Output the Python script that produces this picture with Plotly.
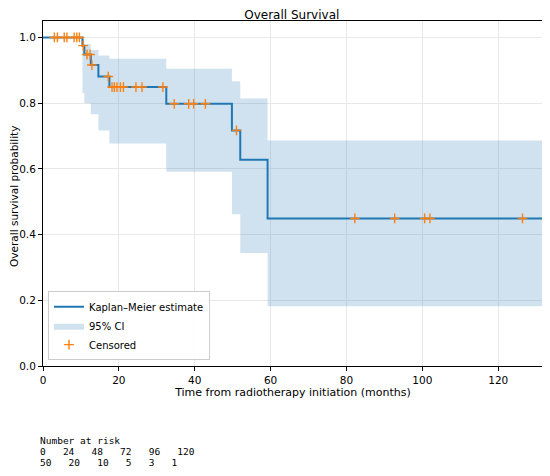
import numpy as np
import plotly.graph_objects as go

# Kaplan-Meier step values
event_times = [0, 10.4, 10.9, 12.6, 14.6, 17.5, 32.5, 49.8, 52.0, 59.2]
survival = [1.0, 0.975, 0.948, 0.916, 0.881, 0.849, 0.798, 0.717, 0.628, 0.449]
ci_upper = [1.0, 0.995, 0.98, 0.962, 0.945, 0.935, 0.905, 0.867, 0.814, 0.686]
ci_lower = [1.0, 0.83, 0.80, 0.766, 0.717, 0.677, 0.591, 0.462, 0.344, 0.182]
end_time = 131.8

censor_times = [3.0, 3.8, 5.6, 6.3, 8.2, 8.9, 9.6, 10.6, 11.6, 12.4, 12.9, 17.2,
                18.2, 18.8, 19.5, 20.4, 21.2, 24.5, 26.1, 31.6, 34.6, 38.4, 39.7,
                42.8, 51.0, 82.2, 92.7, 100.6, 102.0, 126.4]

risk_times = [0, 24, 48, 72, 96, 120]
risk_counts = [50, 20, 10, 5, 3, 1]

blue = "#1f77b4"
orange = "#ff7f0e"

# extend the step curves to the end of follow-up
t_step = event_times + [end_time]
s_step = survival + [survival[-1]]
up_step = ci_upper + [ci_upper[-1]]
lo_step = ci_lower + [ci_lower[-1]]

# censored marks sit on the curve
idx = np.searchsorted(event_times, censor_times, side="right") - 1
censor_surv = [survival[i] for i in idx]

fig = go.Figure()
fig.add_trace(go.Scatter(x=t_step, y=lo_step, mode="lines", line_shape="hv",
                         line=dict(width=0, color=blue), showlegend=False,
                         hoverinfo="skip"))
fig.add_trace(go.Scatter(x=t_step, y=up_step, mode="lines", line_shape="hv",
                         line=dict(width=0, color=blue), fill="tonexty",
                         fillcolor="rgba(31,119,180,0.21)", name="95% CI",
                         legendrank=2))
fig.add_trace(go.Scatter(x=t_step, y=s_step, mode="lines", line_shape="hv",
                         line=dict(width=2, color=blue),
                         name="Kaplan\u2013Meier estimate", legendrank=1))
fig.add_trace(go.Scatter(x=censor_times, y=censor_surv, mode="markers",
                         marker=dict(symbol="cross-thin", size=7,
                                     line=dict(width=1.4, color=orange)),
                         name="Censored", legendrank=3))

# number-at-risk table, one annotation per line for tight spacing
risk_lines = ["Number at risk",
              "   ".join(str(t) for t in risk_times),
              "   ".join(str(n) for n in risk_counts)]
for i, line in enumerate(risk_lines):
    fig.add_annotation(text=line, xref="paper", yref="paper",
                       x=-0.01, y=-0.217 - 0.032 * i,
                       xanchor="left", yanchor="middle",
                       align="left", showarrow=False,
                       font=dict(family="DejaVu Sans Mono", size=9.5,
                                 color="black"))

# y title as annotation so it can sit closer to the page edge
fig.add_annotation(text="Overall survival probability", xref="paper",
                   yref="paper", x=-0.058, y=0.49, textangle=-90,
                   xanchor="center", yanchor="middle", showarrow=False,
                   font=dict(size=10.5, color="black"))

axis_common = dict(showline=True, linecolor="black", linewidth=1, mirror=True,
                   ticks="outside", ticklen=4, tickcolor="black",
                   showgrid=True, gridcolor="#e8e8e8", zeroline=False,
                   automargin=False,
                   tickfont=dict(size=10.5, color="black"))

fig.update_xaxes(range=[0, end_time], dtick=20, tick0=0,
                 title=dict(text="Time from radiotherapy initiation (months)",
                            font=dict(size=11, color="black"), standoff=2),
                 **axis_common)
fig.update_yaxes(range=[0, 1.05], dtick=0.2, tick0=0, tickformat=".1f",
                 **axis_common)

# the page body adds an 8px offset, so margins are trimmed to match
fig.update_layout(
    width=550, height=476,
    margin=dict(l=35, r=15, t=13, b=118),
    paper_bgcolor="white", plot_bgcolor="white",
    font=dict(family="DejaVu Sans", color="black"),
    title=dict(text="Overall Survival", x=0.516, xanchor="center", y=0.986,
               yanchor="middle", font=dict(size=12, color="black"),
               automargin=False),
    legend=dict(x=0.01, y=0.017, xanchor="left", yanchor="bottom",
                traceorder="normal", itemwidth=30,
                bgcolor="rgba(255,255,255,0.85)", bordercolor="#cccccc",
                borderwidth=1, font=dict(size=10, color="black"),
                tracegroupgap=0),
    showlegend=True,
)

fig.write_html("out.html")
